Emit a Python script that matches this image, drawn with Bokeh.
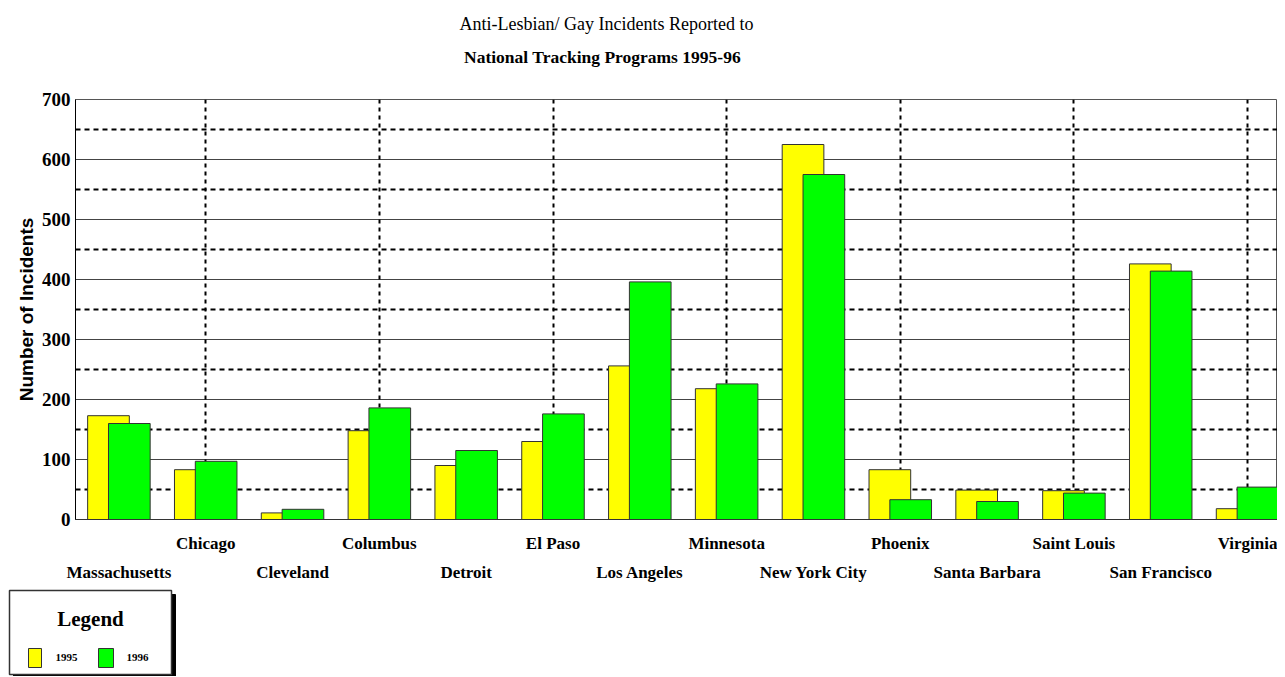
from bokeh.plotting import figure
from bokeh.models import Range1d, LinearAxis, FixedTicker, Grid, ColumnDataSource
from bokeh.layouts import column, row
from bokeh.embed import file_html
from bokeh.resources import INLINE
from bokeh.core.properties import value
from bokeh.transform import dodge

cities = ["Massachusetts", "Chicago", "Cleveland", "Columbus", "Detroit", "El Paso",
          "Los Angeles", "Minnesota", "New York City", "Phoenix", "Santa Barbara",
          "Saint Louis", "San Francisco", "Virginia"]
v1995 = [173, 83, 11, 148, 90, 130, 256, 218, 625, 83, 49, 48, 426, 18]
v1996 = [160, 97, 17, 186, 115, 176, 396, 226, 575, 33, 30, 44, 414, 54]
years = ["1995", "1996"]
colors = ["#FFFF00", "#00FF00"]
y_ticks = [0, 100, 200, 300, 400, 500, 600, 700]
title_lines = ["Anti-Lesbian/ Gay Incidents Reported to", "National Tracking Programs 1995-96"]
y_label = "Number of Incidents"
legend_title = "Legend"

SERIF = "Liberation Serif"
SANS = "Liberation Sans"


def bare_figure(w, h):
    f = figure(width=w, height=h, output_backend="svg", toolbar_location=None,
               x_axis_type=None, y_axis_type=None, title=None,
               x_range=Range1d(0, w), y_range=Range1d(0, h),
               min_border=0, min_border_left=0, min_border_right=0,
               min_border_top=0, min_border_bottom=0)
    f.outline_line_color = None
    f.background_fill_color = "white"
    f.border_fill_color = "white"
    return f


# ---- title strip (pixel coordinates, y up) ----
tf = bare_figure(1277, 80)
tf.text(x=[606], y=[57], text=[title_lines[0]], text_font=value(SERIF), text_font_size="18px",
        text_align="center", text_baseline="middle", text_color="black")
tf.text(x=[602], y=[24], text=[title_lines[1]], text_font=value(SERIF), text_font_size="17.5px",
        text_font_style="bold", text_align="center", text_baseline="middle", text_color="black")

# ---- main chart ----
idx = list(range(len(cities)))
src = ColumnDataSource(dict(idx=idx, v1995=v1995, v1996=v1996))

p = figure(width=1277, height=506, output_backend="svg", toolbar_location=None,
           x_axis_type=None, y_axis_type=None, title=None,
           x_range=Range1d(-0.5, 13.345), y_range=Range1d(0, 700),
           min_border_left=75, min_border_right=0, min_border_top=19, min_border_bottom=67)
p.outline_line_color = "#555555"
p.background_fill_color = "white"
p.border_fill_color = "white"

p.add_layout(Grid(dimension=1, ticker=FixedTicker(ticks=y_ticks),
                  grid_line_color="#444444", grid_line_width=1))
p.add_layout(Grid(dimension=1, ticker=FixedTicker(ticks=[t + 50 for t in y_ticks[:-1]]),
                  grid_line_color="black", grid_line_width=2, grid_line_dash="5 4"))
p.add_layout(Grid(dimension=0, ticker=FixedTicker(ticks=idx[1::2]),
                  grid_line_color="black", grid_line_width=2, grid_line_dash="4 4"))

p.vbar(x=dodge("idx", -0.12, range=p.x_range), top="v1995", width=0.48, bottom=0,
       source=src, fill_color=colors[0], line_color="#333333", line_width=1)
p.vbar(x=dodge("idx", 0.12, range=p.x_range), top="v1996", width=0.48, bottom=0,
       source=src, fill_color=colors[1], line_color="#333333", line_width=1)

yax = LinearAxis(ticker=FixedTicker(ticks=y_ticks), axis_label=y_label)
yax.major_tick_in = 0
yax.major_tick_out = 0
yax.minor_tick_in = 0
yax.minor_tick_out = 0
yax.axis_line_color = "black"
yax.major_label_standoff = 5
yax.major_label_text_font = SERIF
yax.major_label_text_font_style = "bold"
yax.major_label_text_font_size = "19px"
yax.major_label_text_color = "black"
yax.axis_label_text_font = SANS
yax.axis_label_text_font_style = "bold"
yax.axis_label_text_font_size = "19px"
yax.axis_label_text_color = "black"
yax.axis_label_standoff = 2
p.add_layout(yax, "left")


def make_xaxis(ticks, standoff, line_color):
    ax = LinearAxis(ticker=FixedTicker(ticks=ticks),
                    major_label_overrides={i: cities[i] for i in ticks})
    ax.major_tick_in = 0
    ax.major_tick_out = 0
    ax.minor_tick_in = 0
    ax.minor_tick_out = 0
    ax.axis_line_color = line_color
    ax.major_label_standoff = standoff
    ax.major_label_text_font = SERIF
    ax.major_label_text_font_style = "bold"
    ax.major_label_text_font_size = "17px"
    ax.major_label_text_color = "black"
    return ax


p.add_layout(make_xaxis(idx[1::2], 14, "#333333"), "below")
p.add_layout(make_xaxis(idx[0::2], 7, None), "below")

# ---- legend box (pixel coordinates, y up) ----
leg = bare_figure(180, 90)
leg.quad(left=[13], right=[175], top=[82], bottom=[-2], fill_color="black", line_color="black")
leg.quad(left=[9], right=[171], top=[86], bottom=[2], fill_color="white", line_color="#333333",
         line_width=1.5)
leg.text(x=[90], y=[58], text=[legend_title], text_font=value(SERIF), text_font_size="21px",
         text_font_style="bold", text_align="center", text_baseline="middle", text_color="black")
leg.quad(left=[28, 98], right=[41, 113], top=[28, 28], bottom=[9, 9],
         fill_color=colors, line_color="#333333", line_width=1)
leg.text(x=[55, 126], y=[19, 19], text=years, text_font=value(SERIF), text_font_size="11px",
         text_font_style="bold", text_align="left", text_baseline="middle", text_color="black")

layout = column(row(tf), p, row(leg), spacing=0)
open("out.html", "w").write(file_html(layout, INLINE))
